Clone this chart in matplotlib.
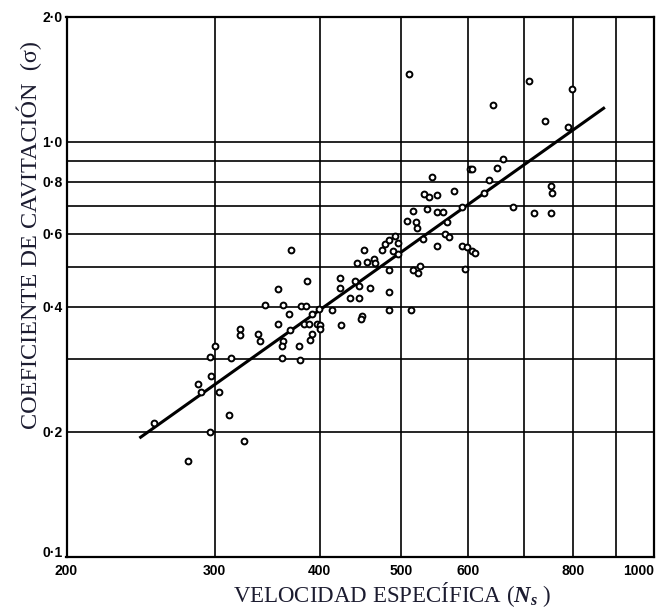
import matplotlib.pyplot as plt
from matplotlib.ticker import FixedLocator, FixedFormatter, NullLocator

plt.rcParams['mathtext.fontset'] = 'custom'
plt.rcParams['mathtext.it'] = 'Liberation Serif:italic:bold'
plt.rcParams['mathtext.rm'] = 'Liberation Serif'

# datos (velocidad especifica vs coeficiente de cavitacion)
ns = [254, 287, 289, 297, 304, 312, 296, 325, 279, 300,
      296, 314, 322, 322, 338, 340, 344, 357, 370, 362,
      357, 368, 369, 362, 361, 361, 378, 379, 380, 385,
      386, 383, 388, 392, 392, 389, 397, 400, 400, 399,
      414, 423, 423, 424, 440, 445, 435, 445, 459, 443,
      455, 464, 465, 449, 448, 452, 483, 484, 484, 513,
      474, 478, 483, 489, 495, 495, 492, 508, 516, 520,
      522, 517, 527, 524, 531, 537, 552, 561, 566, 564,
      570, 551, 591, 598, 606, 611, 595, 532, 539, 551,
      544, 578, 590, 603, 607, 627, 636, 649, 661, 678,
      719, 753, 753, 755, 741, 790, 710, 797, 643, 511]
sigma = [0.210, 0.261, 0.250, 0.272, 0.250, 0.220, 0.200, 0.190, 0.170, 0.322,
         0.302, 0.301, 0.354, 0.342, 0.344, 0.331, 0.405, 0.442, 0.548, 0.403,
         0.363, 0.384, 0.352, 0.330, 0.321, 0.301, 0.321, 0.298, 0.402, 0.402,
         0.461, 0.363, 0.363, 0.384, 0.344, 0.332, 0.364, 0.362, 0.353, 0.396,
         0.393, 0.469, 0.443, 0.362, 0.462, 0.450, 0.421, 0.421, 0.443, 0.511,
         0.512, 0.521, 0.509, 0.381, 0.373, 0.548, 0.435, 0.492, 0.393, 0.393,
         0.549, 0.567, 0.579, 0.546, 0.536, 0.571, 0.594, 0.645, 0.679, 0.639,
         0.619, 0.492, 0.502, 0.482, 0.582, 0.687, 0.676, 0.676, 0.639, 0.600,
         0.588, 0.560, 0.561, 0.558, 0.545, 0.538, 0.494, 0.748, 0.734, 0.742,
         0.821, 0.762, 0.696, 0.858, 0.858, 0.752, 0.808, 0.864, 0.908, 0.697,
         0.675, 0.674, 0.782, 0.753, 1.122, 1.087, 1.403, 1.337, 1.225, 1.454]

# recta de ajuste
fit_ns = [245, 870]
fit_sigma = [0.194, 1.204]

x_grid = [300, 400, 500, 600, 700, 800, 900]
y_grid = [0.2, 0.3, 0.4, 0.5, 0.6, 0.7, 0.8, 0.9, 1.0]
x_ticks = [200, 300, 400, 500, 600, 700, 800, 900, 1000]
x_labels = ['200', '300', '400', '500', '600', '', '800', '', '1000']
y_ticks = [0.1, 0.2, 0.3, 0.4, 0.5, 0.6, 0.7, 0.8, 0.9, 1.0, 2.0]
y_labels = ['0·1', '0·2', '', '0·4', '', '0·6', '', '0·8', '', '1·0', '2·0']

fig = plt.figure(figsize=(6.65, 6.09), dpi=100)
ax = fig.add_axes([0.1, 0.086, 0.8842, 0.8864])
ax.set_xscale('log')
ax.set_yscale('log')
ax.set_xlim(200, 1000)
ax.set_ylim(0.1, 2.0)

for gx in x_grid:
    ax.axvline(gx, color='black', lw=1.2, zorder=1)
for gy in y_grid:
    ax.axhline(gy, color='black', lw=1.2, zorder=1)

ax.plot(fit_ns, fit_sigma, color='black', lw=2.2, zorder=3)
ax.plot(ns, sigma, 'o', ms=4.2, mfc='white', mec='black', mew=1.4, zorder=4)

ax.xaxis.set_major_locator(FixedLocator(x_ticks))
ax.xaxis.set_major_formatter(FixedFormatter(x_labels))
ax.xaxis.set_minor_locator(NullLocator())
ax.yaxis.set_major_locator(FixedLocator(y_ticks))
ax.yaxis.set_major_formatter(FixedFormatter(y_labels))
ax.yaxis.set_minor_locator(NullLocator())
ax.tick_params(length=0, labelsize=10)
ax.tick_params(axis='x', pad=5)
ax.tick_params(axis='y', pad=3)
for lab in ax.get_xticklabels() + ax.get_yticklabels():
    lab.set_fontweight('bold')
    lab.set_family('Liberation Sans')
# el ultimo rotulo queda pegado al borde
ax.get_xticklabels()[-1].set_horizontalalignment('right')
ax.get_yticklabels()[0].set_verticalalignment('baseline')

for sp in ax.spines.values():
    sp.set_linewidth(1.6)

ax.set_xlabel('VELOCIDAD ESPECÍFICA ($N_s$ )', family='Liberation Serif',
              fontsize=16.5, color='#1c1c30')
ax.xaxis.set_label_coords(0.554, -0.043)
ax.set_ylabel('COEFICIENTE DE CAVITACIÓN  (σ)', family='Liberation Serif',
              fontsize=17.5, color='#1c1c30')
ax.yaxis.set_label_coords(-0.042, 0.596)

fig.savefig('out.png', dpi=100)
